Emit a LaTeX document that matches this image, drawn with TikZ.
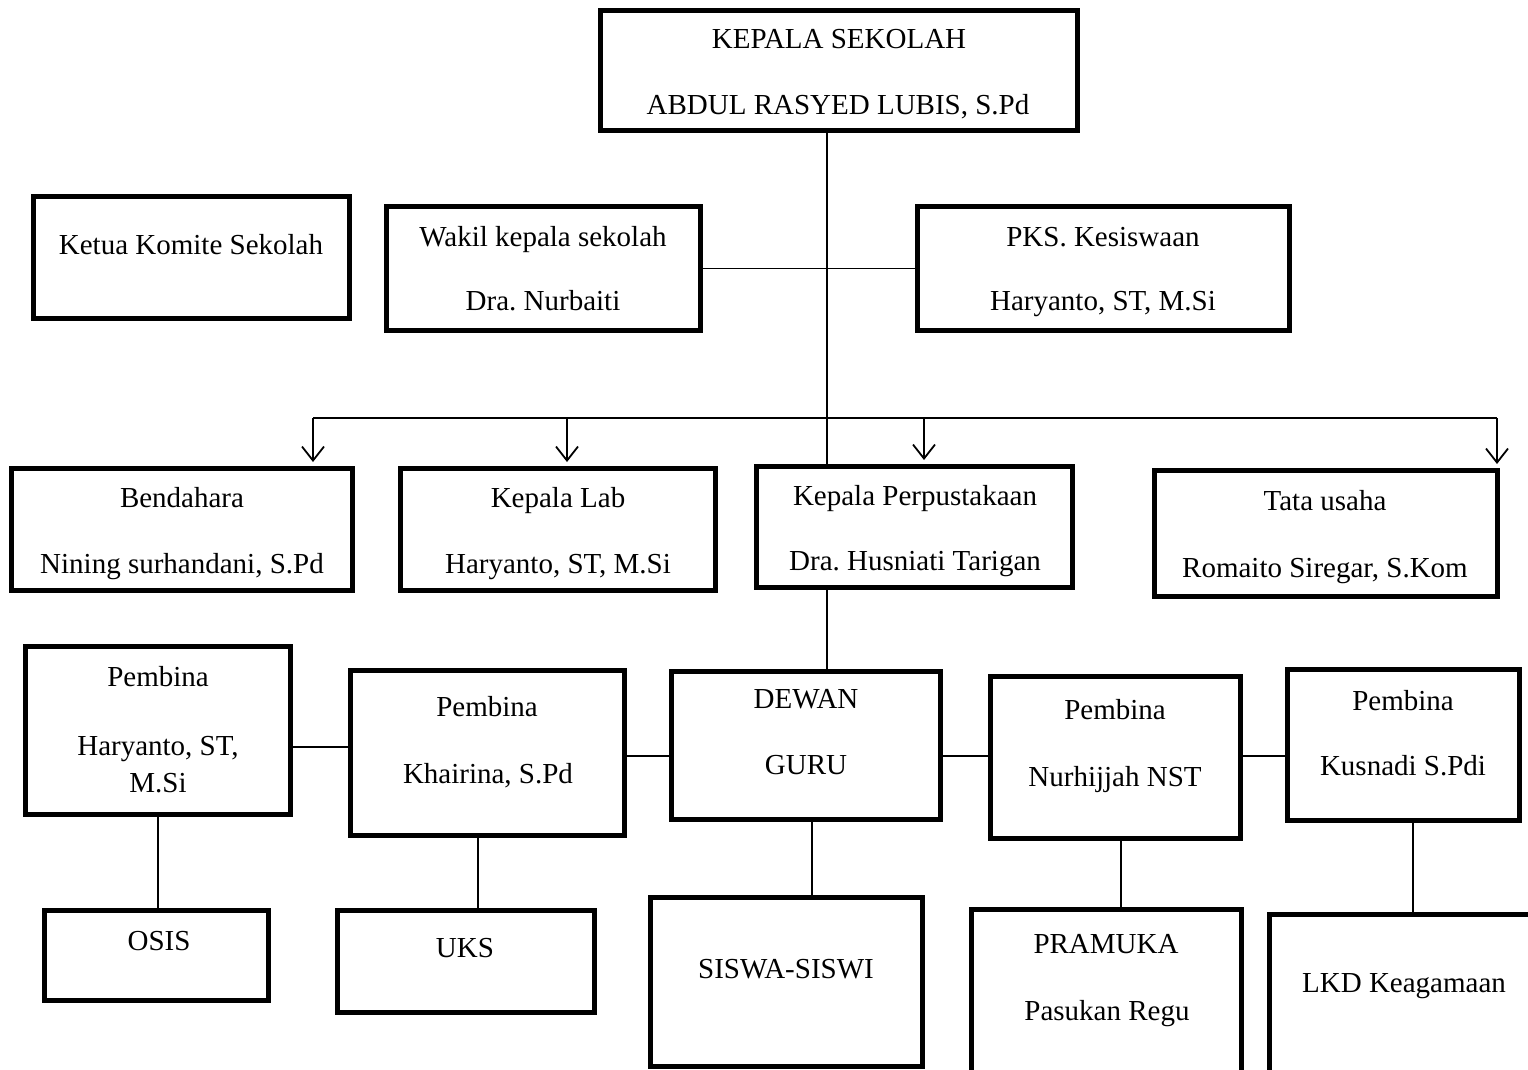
\documentclass[tikz,border=0pt]{standalone}
\usepackage{fontspec}
\setmainfont{Liberation Serif}
\frenchspacing
\usetikzlibrary{arrows.meta}
\tikzset{
  box/.style={draw=black, line width=5pt, rectangle, inner sep=0pt, fill=none},
  txt/.style={anchor=base, inner sep=0pt, font=\fontsize{29}{35}\selectfont},
  conn/.style={line width=1.8pt, draw=black},
  arr/.style={line width=1.8pt, draw=black, -{Straight Barb[length=14pt,width=22pt,line width=1.8pt]}, shorten >=4pt},
}
\begin{document}
\begin{tikzpicture}[x=1pt,y=-1pt]
\useasboundingbox (0,0) rectangle (1528,1069);
\clip (0,0) rectangle (1528,1069);
% boxes
\node[box, minimum width=477, minimum height=120] (kepala) at (839,70.5) {};
\node[box, minimum width=316, minimum height=122] (komite) at (191.5,257.5) {};
\node[box, minimum width=314, minimum height=124] (wakil) at (543.5,268.5) {};
\node[box, minimum width=372, minimum height=124] (pks) at (1103.5,268.5) {};
\node[box, minimum width=341, minimum height=122] (bend) at (182,529.5) {};
\node[box, minimum width=315, minimum height=122] (lab) at (558,529.5) {};
\node[box, minimum width=316, minimum height=121] (perp) at (914.5,527) {};
\node[box, minimum width=343, minimum height=126] (tata) at (1326,533.5) {};
\node[box, minimum width=265, minimum height=168] (p1) at (158,730.5) {};
\node[box, minimum width=274, minimum height=165] (p2) at (487.5,753) {};
\node[box, minimum width=269, minimum height=148] (dewan) at (806,745.5) {};
\node[box, minimum width=250, minimum height=162] (p4) at (1115.5,757.5) {};
\node[box, minimum width=232, minimum height=151] (p5) at (1403.5,745) {};
\node[box, minimum width=224, minimum height=90] (osis) at (156.5,955.5) {};
\node[box, minimum width=257, minimum height=102] (uks) at (466,961.5) {};
\node[box, minimum width=272, minimum height=169] (siswa) at (786.5,982) {};
\node[box, minimum width=270, minimum height=190.5] (pram) at (1106.5,1004.75) {};
\node[box, minimum width=290.5, minimum height=185.5] (lkd) at (1414.75,1007.25) {};
% texts
\node[txt] (tk1) at (839,48) {KEPALA SEKOLAH};
\node[txt] (tk2) at (838,114) {ABDUL RASYED LUBIS, S.Pd};
\node[txt] (tko) at (191,254) {Ketua Komite Sekolah};
\node[txt] (tw1) at (543,246) {Wakil kepala sekolah};
\node[txt] (tw2) at (543,310) {Dra. Nurbaiti};
\node[txt] (tp1) at (1103,246) {PKS. Kesiswaan};
\node[txt] (tp2) at (1103,310) {Haryanto, ST, M.Si};
\node[txt] (tb1) at (182,507) {Bendahara};
\node[txt] (tb2) at (182,573) {Nining surhandani, S.Pd};
\node[txt] (tl1) at (558,507) {Kepala Lab};
\node[txt] (tl2) at (558,573) {Haryanto, ST, M.Si};
\node[txt] (tpe1) at (915,505) {Kepala Perpustakaan};
\node[txt] (tpe2) at (915,570) {Dra. Husniati Tarigan};
\node[txt] (tt1) at (1325,510) {Tata usaha};
\node[txt] (tt2) at (1325,577) {Romaito Siregar, S.Kom};
\node[txt] (ta1) at (158,686) {Pembina};
\node[txt] (ta2) at (158,755) {Haryanto, ST,};
\node[txt] (ta3) at (158,792) {M.Si};
\node[txt] (tb21) at (487,716) {Pembina};
\node[txt] (tb22) at (488,783) {Khairina, S.Pd};
\node[txt] (td1) at (806,708) {DEWAN};
\node[txt] (td2) at (806,774) {GURU};
\node[txt] (tn1) at (1115,719) {Pembina};
\node[txt] (tn2) at (1115,786) {Nurhijjah NST};
\node[txt] (tq1) at (1403,710) {Pembina};
\node[txt] (tq2) at (1403,775) {Kusnadi S.Pdi};
\node[txt] (to) at (159,950) {OSIS};
\node[txt] (tu) at (465,957) {UKS};
\node[txt] (ts) at (786,978) {SISWA-SISWI};
\node[txt] (tr1) at (1106,953) {PRAMUKA};
\node[txt] (tr2) at (1107,1020) {Pasukan Regu};
\node[txt] (tlk) at (1404,992) {LKD Keagamaan};
% spine and bar coordinates
\coordinate (spine) at (827,0);
\coordinate (a1) at (313,418);
\coordinate (a2) at (567,418);
\coordinate (a3) at (924,418);
\coordinate (a4) at (1497,418);
% connectors
\draw[conn] (kepala.south -| spine) -- (perp.north -| spine);
\draw[conn] (wakil.east) -- (pks.west);
\draw[conn] (a1) -- (a4);
\draw[arr] (a1) -- (a1 |- bend.north);
\draw[arr] (a2) -- (a2 |- lab.north);
\draw[arr] (a3) -- (a3 |- perp.north);
\draw[arr] (a4) -- (a4 |- tata.north);
\draw[conn] (perp.south -| spine) -- (dewan.north -| spine);
\draw[conn] (p1.east |- 0,747) -- (p2.west |- 0,747);
\draw[conn] (p2.east |- 0,756) -- (dewan.west |- 0,756);
\draw[conn] (dewan.east |- 0,756) -- (p4.west |- 0,756);
\draw[conn] (p4.east |- 0,756) -- (p5.west |- 0,756);
\draw[conn] (p1.south) -- (p1.south |- osis.north);
\draw[conn] (p2.south -| 478,0) -- (uks.north -| 478,0);
\draw[conn] (dewan.south -| 812,0) -- (siswa.north -| 812,0);
\draw[conn] (p4.south -| 1121,0) -- (pram.north -| 1121,0);
\draw[conn] (p5.south -| 1413,0) -- (lkd.north -| 1413,0);
\end{tikzpicture}
\end{document}
